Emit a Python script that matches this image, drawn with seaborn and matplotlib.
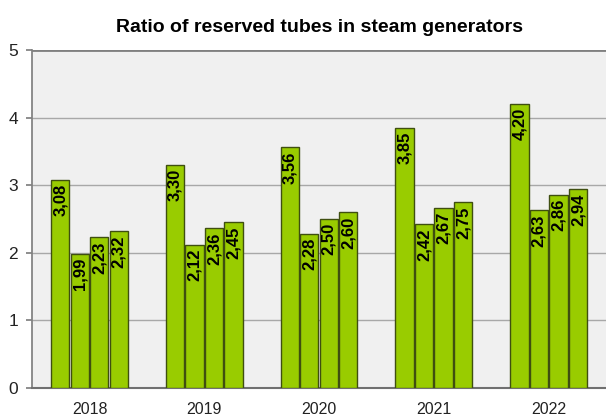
import pandas as pd
import matplotlib.pyplot as plt
import seaborn as sns

# Ratio of reserved tubes in steam generators, 4 units per year
years = ['2018', '2019', '2020', '2021', '2022']
unit_1 = [3.08, 3.30, 3.56, 3.85, 4.20]
unit_2 = [1.99, 2.12, 2.28, 2.42, 2.63]
unit_3 = [2.23, 2.36, 2.50, 2.67, 2.86]
unit_4 = [2.32, 2.45, 2.60, 2.75, 2.94]
series_names = ['unit_1', 'unit_2', 'unit_3', 'unit_4']

rows = []
for name, vals in zip(series_names, [unit_1, unit_2, unit_3, unit_4]):
    for y, v in zip(years, vals):
        rows.append({'year': y, 'series': name, 'ratio': v})
df = pd.DataFrame(rows)

sns.set_theme(style="white")
plt.rcParams['font.family'] = ['Liberation Sans', 'DejaVu Sans']
plt.rcParams['text.color'] = 'black'
plt.rcParams['xtick.color'] = '#222222'
plt.rcParams['ytick.color'] = '#222222'

fig = plt.figure(figsize=(6.06, 4.16), dpi=100)
ax = fig.add_axes([0.053, 0.067, 0.947, 0.813])
ax.set_facecolor('#f0f0f0')

palette = {n: '#99cc00' for n in series_names}
sns.barplot(data=df, x='year', y='ratio', hue='series', palette=palette,
            width=0.68, gap=0.06, edgecolor='#3f4f10', linewidth=1.0, saturation=1,
            legend=False, ax=ax, zorder=3)

# value labels inside the top of each bar
for cont, vals in zip(ax.containers, [unit_1, unit_2, unit_3, unit_4]):
    for bar, v in zip(cont, vals):
        ax.text(bar.get_x() + bar.get_width() / 2, v - 0.06,
                f"{v:.2f}".replace('.', ','), rotation=90, ha='center', va='top',
                fontsize=12, fontweight='bold', color='black', zorder=4)

ax.set_ylim(0, 5)
ax.set_xlim(-0.5, 4.5)
ax.set_yticks([0, 1, 2, 3, 4, 5])
ax.yaxis.grid(True, color='#a8a8a8', linewidth=1.0, zorder=0)
ax.axhline(5, color='#808080', linewidth=2, zorder=1)
ax.set_xlabel('')
ax.set_ylabel('')
ax.tick_params(axis='y', labelsize=12.5, length=4, color='#808080', pad=6, left=True)
ax.tick_params(axis='x', labelsize=11.5, length=0, pad=10)
for s in ['top', 'right']:
    ax.spines[s].set_visible(False)
ax.spines['left'].set_color('#808080')
ax.spines['bottom'].set_color('#707070')
ax.spines['bottom'].set_linewidth(1.5)

ax.set_title('Ratio of reserved tubes in steam generators', fontsize=14,
             fontweight='bold', color='black', pad=13)

fig.savefig('out.png', dpi=100)
